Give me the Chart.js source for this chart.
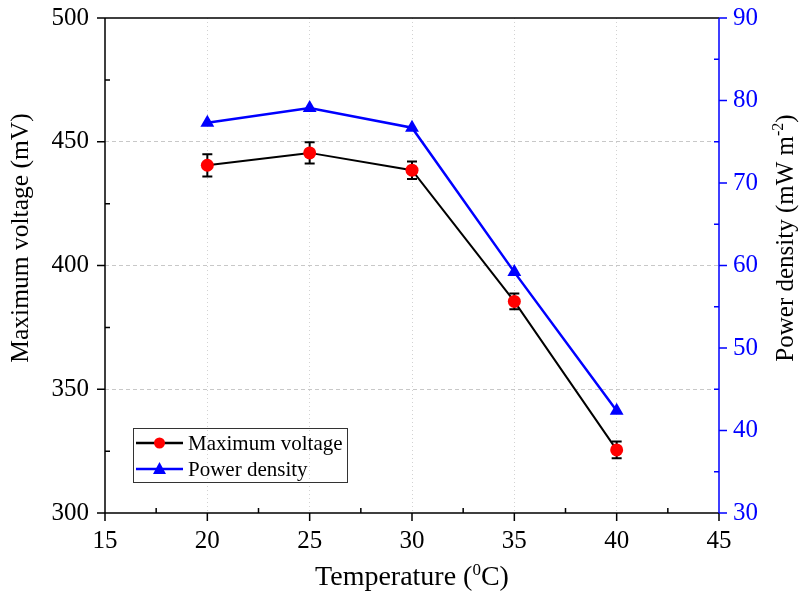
<!DOCTYPE html>
<html>
<head>
<meta charset="utf-8">
<script src="https://cdn.jsdelivr.net/npm/chart.js@4/dist/chart.umd.min.js"></script>
<style>
html,body{margin:0;padding:0;background:#fff;}
#wrap{width:801px;height:594px;position:relative;}
</style>
</head>
<body>
<div id="wrap"><canvas id="c" width="801" height="594"></canvas></div>
<script>
// ---- data ----
const temperatures = [20, 25, 30, 35, 40];
const maxVoltage = [440.5, 445.5, 438.5, 385.5, 325.5];
const maxVoltageErr = [4.5, 4.3, 3.5, 3.2, 3.4];
const powerDensity = [77.3, 79.1, 76.7, 59.2, 42.4];
const xTicks = [15, 20, 25, 30, 35, 40, 45];
const leftTicks = [300, 350, 400, 450, 500];
const rightTicks = [30, 40, 50, 60, 70, 80, 90];
const seriesNames = ['Maximum voltage', 'Power density'];

const SERIF = '"Liberation Serif", "Times New Roman", serif';
const BLUE = '#0000ff';

function drawRich(ctx, parts, size, supSize, supRise) {
  let w = 0;
  parts.forEach(p => {
    ctx.font = (p.sup ? supSize : size) + 'px ' + SERIF;
    p.w = ctx.measureText(p.t).width;
    w += p.w;
  });
  let x = -w / 2;
  parts.forEach(p => {
    ctx.font = (p.sup ? supSize : size) + 'px ' + SERIF;
    ctx.fillText(p.t, x, p.sup ? -supRise : 0);
    x += p.w;
  });
}

const framePlugin = {
  id: 'frame',
  beforeDatasetsDraw(chart) {
    const ctx = chart.ctx;
    const x = chart.scales.x, y = chart.scales.y;
    ctx.save();
    ctx.strokeStyle = '#000';
    ctx.lineWidth = 2;
    temperatures.forEach((t, i) => {
      const px = x.getPixelForValue(t);
      const top = y.getPixelForValue(maxVoltage[i] + maxVoltageErr[i]);
      const bot = y.getPixelForValue(maxVoltage[i] - maxVoltageErr[i]);
      ctx.beginPath();
      ctx.moveTo(px, top); ctx.lineTo(px, bot);
      ctx.moveTo(px - 5, top); ctx.lineTo(px + 5, top);
      ctx.moveTo(px - 5, bot); ctx.lineTo(px + 5, bot);
      ctx.stroke();
    });
    ctx.restore();
  },
  afterDraw(chart) {
    const ctx = chart.ctx;
    const {left, right, top, bottom} = chart.chartArea;
    const x = chart.scales.x, y = chart.scales.y, y1 = chart.scales.y1;
    ctx.save();
    ctx.lineWidth = 1.5;
    ctx.strokeStyle = '#000';
    ctx.beginPath();
    ctx.moveTo(left, top); ctx.lineTo(right, top);
    ctx.moveTo(left, top); ctx.lineTo(left, bottom);
    ctx.moveTo(left, bottom); ctx.lineTo(right, bottom);
    ctx.stroke();
    ctx.beginPath();
    xTicks.forEach(v => { const p = x.getPixelForValue(v); ctx.moveTo(p, bottom); ctx.lineTo(p, bottom + 8); });
    for (let i = 0; i < xTicks.length - 1; i++) { const p = x.getPixelForValue((xTicks[i] + xTicks[i+1]) / 2); ctx.moveTo(p, bottom); ctx.lineTo(p, bottom - 5); }
    leftTicks.forEach(v => { const p = y.getPixelForValue(v); ctx.moveTo(left, p); ctx.lineTo(left - 8, p); });
    for (let i = 0; i < leftTicks.length - 1; i++) { const p = y.getPixelForValue((leftTicks[i] + leftTicks[i+1]) / 2); ctx.moveTo(left, p); ctx.lineTo(left + 5, p); }
    ctx.stroke();
    ctx.strokeStyle = BLUE;
    ctx.beginPath();
    ctx.moveTo(right, top); ctx.lineTo(right, bottom);
    rightTicks.forEach(v => { const p = y1.getPixelForValue(v); ctx.moveTo(right, p); ctx.lineTo(right + 8, p); });
    for (let i = 0; i < rightTicks.length - 1; i++) { const p = y1.getPixelForValue((rightTicks[i] + rightTicks[i+1]) / 2); ctx.moveTo(right, p); ctx.lineTo(right - 5, p); }
    ctx.stroke();

    ctx.fillStyle = '#000';
    ctx.textBaseline = 'alphabetic';
    ctx.textAlign = 'left';
    ctx.save();
    ctx.translate((left + right) / 2, 585);
    drawRich(ctx, [{t: 'Temperature ('}, {t: '0', sup: true}, {t: 'C)'}], 28, 17, 10);
    ctx.restore();
    ctx.save();
    ctx.translate(28, 238);
    ctx.rotate(-Math.PI / 2);
    drawRich(ctx, [{t: 'Maximum voltage (mV)'}], 25.5, 17, 10);
    ctx.restore();
    ctx.save();
    ctx.translate(793, 238);
    ctx.rotate(-Math.PI / 2);
    drawRich(ctx, [{t: 'Power density (mW m'}, {t: '-2', sup: true}, {t: ')'}], 25, 16, 10);
    ctx.restore();

    const lx = 133, ly = 428, lw = 214, lh = 54;
    ctx.strokeStyle = '#333';
    ctx.lineWidth = 1;
    ctx.strokeRect(lx + 0.5, ly + 0.5, lw, lh);
    const rows = [
      {name: seriesNames[0], color: '#000', mcolor: '#ff0000', style: 'circle', cy: 443},
      {name: seriesNames[1], color: BLUE, mcolor: BLUE, style: 'triangle', cy: 469}
    ];
    rows.forEach(r => {
      ctx.strokeStyle = r.color;
      ctx.lineWidth = 2.5;
      ctx.beginPath();
      ctx.moveTo(136, r.cy); ctx.lineTo(183, r.cy);
      ctx.stroke();
      ctx.fillStyle = r.mcolor;
      ctx.beginPath();
      if (r.style === 'circle') {
        ctx.arc(159.5, r.cy, 5.5, 0, Math.PI * 2);
      } else {
        ctx.moveTo(159.5, r.cy - 7); ctx.lineTo(166, r.cy + 5); ctx.lineTo(153, r.cy + 5); ctx.closePath();
      }
      ctx.fill();
      ctx.fillStyle = '#000';
      ctx.font = '21px ' + SERIF;
      ctx.textBaseline = 'middle';
      ctx.fillText(r.name, 188, r.cy + 1);
    });
    ctx.restore();
  }
};

const voltagePoints = temperatures.map((t, i) => ({x: t, y: maxVoltage[i]}));
const powerPoints = temperatures.map((t, i) => ({x: t, y: powerDensity[i]}));

new Chart(document.getElementById('c'), {
  type: 'line',
  data: {
    datasets: [
      {
        label: seriesNames[0], data: voltagePoints, yAxisID: 'y',
        borderColor: '#000', borderWidth: 2,
        pointStyle: 'circle', pointRadius: 6.5, pointBackgroundColor: '#ff0000', pointBorderColor: '#ff0000', pointBorderWidth: 0,
        tension: 0
      },
      {
        label: seriesNames[1], data: powerPoints, yAxisID: 'y1',
        borderColor: BLUE, borderWidth: 2.5,
        pointStyle: 'triangle', pointRadius: 8, pointBackgroundColor: BLUE, pointBorderColor: BLUE, pointBorderWidth: 0,
        tension: 0
      }
    ]
  },
  options: {
    responsive: false,
    animation: false,
    devicePixelRatio: 1,
    layout: {padding: {top: 18, left: 0, right: 0, bottom: 0}},
    plugins: {legend: {display: false}, tooltip: {enabled: false}},
    scales: {
      x: {
        type: 'linear', min: 15, max: 45,
        afterBuildTicks: s => { s.ticks = xTicks.map(v => ({value: v})); },
        ticks: {font: {family: SERIF, size: 25}, color: '#000', padding: 13, maxRotation: 0},
        grid: {drawTicks: false, color: c => (c.tick && (c.tick.value === 15 || c.tick.value === 45)) ? 'rgba(0,0,0,0)' : '#d2d2d2', lineWidth: 1},
        border: {display: false, dash: [1, 3]},
        afterFit: s => { s.height = 81; s.paddingLeft = 0; s.paddingRight = 0; }
      },
      y: {
        type: 'linear', position: 'left', min: 300, max: 500,
        afterBuildTicks: s => { s.ticks = leftTicks.map(v => ({value: v})); },
        ticks: {font: {family: SERIF, size: 25}, color: '#000', padding: 16},
        grid: {drawTicks: false, color: c => (c.tick && (c.tick.value === 300 || c.tick.value === 500)) ? 'rgba(0,0,0,0)' : '#c8c8c8', lineWidth: 1},
        border: {display: false, dash: [4, 3]},
        afterFit: s => { s.width = 105; s.paddingTop = 0; s.paddingBottom = 0; }
      },
      y1: {
        type: 'linear', position: 'right', min: 30, max: 90,
        afterBuildTicks: s => { s.ticks = rightTicks.map(v => ({value: v})); },
        ticks: {font: {family: SERIF, size: 25}, color: BLUE, padding: 14},
        grid: {display: false, drawTicks: false},
        border: {display: false},
        afterFit: s => { s.width = 82; s.paddingTop = 0; s.paddingBottom = 0; }
      }
    }
  },
  plugins: [framePlugin]
});
</script>
</body>
</html>
